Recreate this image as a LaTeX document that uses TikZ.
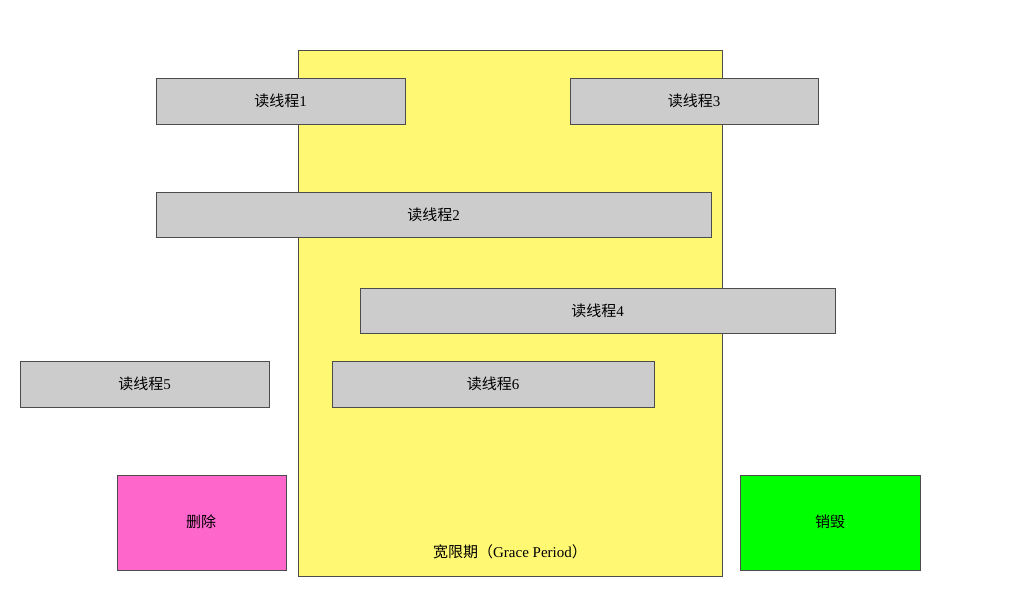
\documentclass[tikz,border=0pt]{standalone}
\usepackage{fontspec}
\setmainfont{Liberation Serif}
\newfontfamily\cjk{Noto Sans CJK SC}
\begin{document}
\begin{tikzpicture}[x=1pt,y=-1pt,
  thr/.style={draw=black!70,fill=black!20,line width=0.9pt},
  lbl/.style={font=\fontsize{15}{18}\selectfont}]
\useasboundingbox (0,0) rectangle (1009,593);
\draw[draw=black!70,fill=yellow!55,line width=0.9pt] (298,50) rectangle (722,576);
\node[lbl] (g) at (510,552) {{\cjk 宽限期（}Grace Period{\cjk ）}};
\newcommand\thrbox[5]{\draw[thr] (#1,#2) rectangle (#3,#4);
  \node[lbl] (t#5) at ({(#1+#3)/2},{(#2+#4)/2}) {{\cjk 读线程}#5};}
\thrbox{156}{78}{405}{124}{1}
\thrbox{570}{78}{818}{124}{3}
\thrbox{156}{192}{711}{237}{2}
\thrbox{360}{288}{835}{333}{4}
\thrbox{20}{361}{269}{407}{5}
\thrbox{332}{361}{654}{407}{6}
\draw[draw=black!70,fill={rgb,255:red,255;green,102;blue,204},line width=0.9pt] (117,475) rectangle (286,570);
\node[lbl] (del) at (201,522) {\cjk 删除};
\draw[draw=black!70,fill={rgb,255:red,0;green,255;blue,0},line width=0.9pt] (740,475) rectangle (920,570);
\node[lbl] (des) at (830,522) {\cjk 销毁};
\end{tikzpicture}
\end{document}
